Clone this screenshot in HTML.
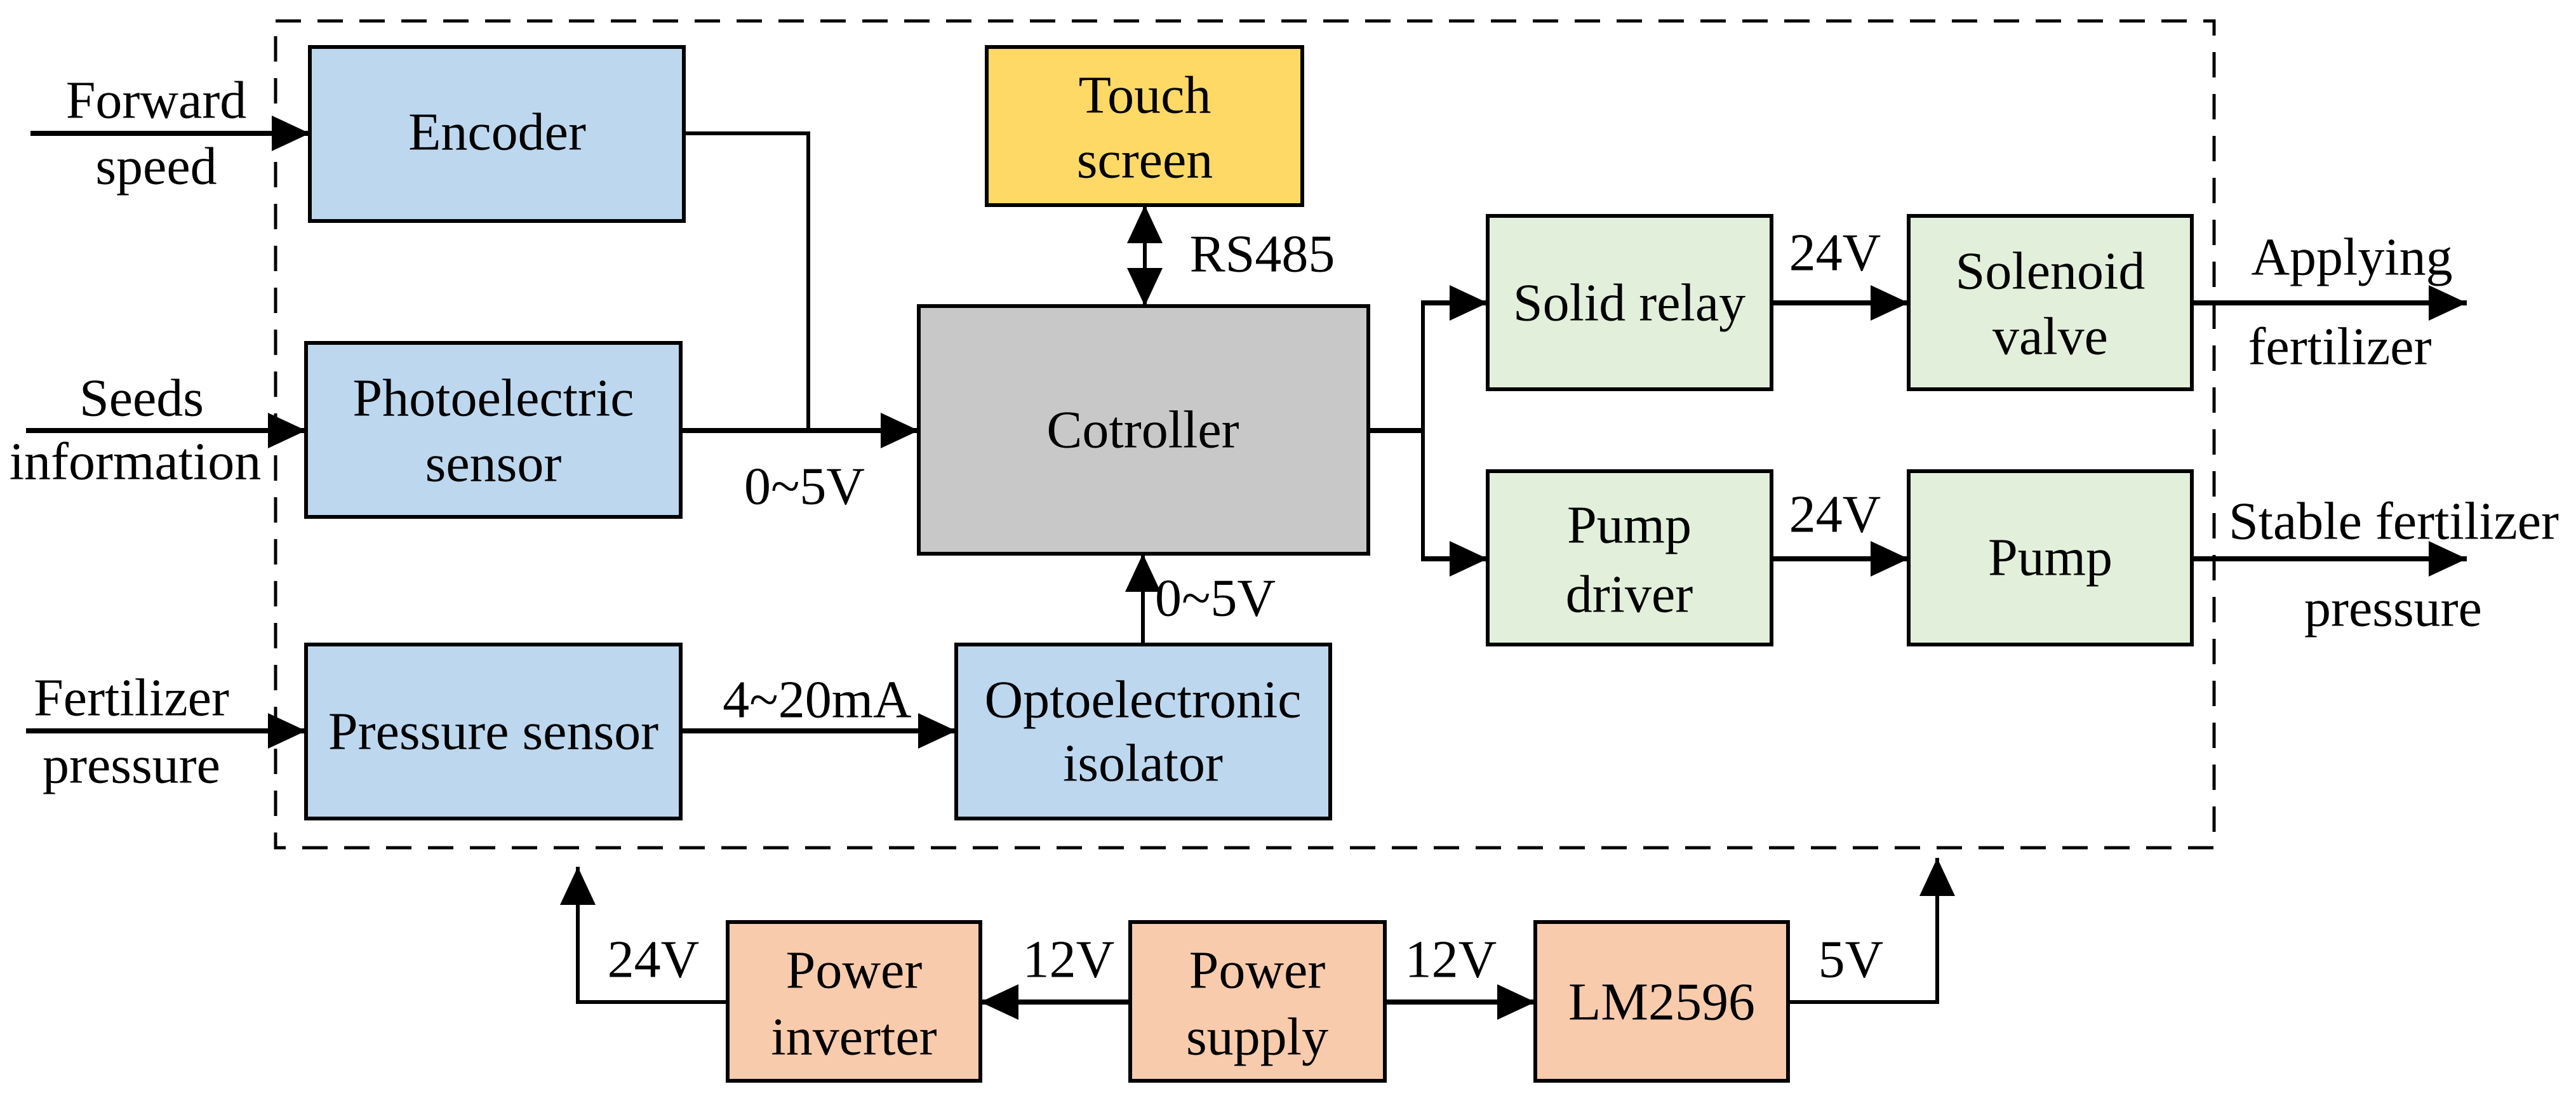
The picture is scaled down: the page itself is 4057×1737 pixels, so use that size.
<!DOCTYPE html>
<html><head><meta charset="utf-8"><style>
html,body{margin:0;padding:0;background:#fff}
svg{display:block}
text{font-family:"Liberation Serif","DejaVu Serif",serif;font-size:84px;fill:#000;text-anchor:middle;dominant-baseline:central}
</style></head><body>
<svg width="4057" height="1737" viewBox="0 0 4057 1737" xmlns="http://www.w3.org/2000/svg" font-family="Liberation Serif, DejaVu Serif, serif">
<defs>
<marker id="a" markerUnits="userSpaceOnUse" markerWidth="60" markerHeight="56" refX="60" refY="28" orient="auto">
<path d="M0,0 L60,28 L0,56 Z" fill="#000"/></marker>
</defs>
<rect x="434" y="33" width="3053" height="1302" fill="none" stroke="#000" stroke-width="5" stroke-dasharray="40,26"/>

<g stroke="#000" stroke-width="6">
<rect x="488" y="74" width="589" height="274" fill="#bdd7ee"/>
<rect x="482" y="540" width="590" height="274" fill="#bdd7ee"/>
<rect x="482" y="1015" width="590" height="274" fill="#bdd7ee"/>
<rect x="1506" y="1015" width="589" height="274" fill="#bdd7ee"/>
<rect x="1554" y="74" width="497" height="249" fill="#ffd966"/>
<rect x="1447" y="482" width="708" height="390" fill="#c8c8c8"/>
<rect x="2343" y="340" width="447" height="273" fill="#e2efda"/>
<rect x="3006" y="340" width="446" height="273" fill="#e2efda"/>
<rect x="2343" y="742" width="447" height="273" fill="#e2efda"/>
<rect x="3006" y="742" width="446" height="273" fill="#e2efda"/>
<rect x="1146" y="1452" width="398" height="250" fill="#f8cbad"/>
<rect x="1780" y="1452" width="401" height="250" fill="#f8cbad"/>
<rect x="2418" y="1452" width="398" height="250" fill="#f8cbad"/>
</g>

<g stroke="#000" stroke-width="8" fill="none">
<line x1="48" y1="210" x2="488" y2="210" marker-end="url(#a)"/>
<line x1="41" y1="678" x2="482" y2="678" marker-end="url(#a)"/>
<line x1="41" y1="1151" x2="482" y2="1151" marker-end="url(#a)"/>
<polyline points="1077,210 1273,210 1273,678" stroke-width="6"/>
<line x1="1072" y1="678" x2="1447" y2="678" marker-end="url(#a)"/>
<line x1="1072" y1="1151" x2="1506" y2="1151" marker-end="url(#a)"/>
<line x1="1800" y1="1015" x2="1800" y2="872" stroke-width="6" marker-end="url(#a)"/>
<line x1="1803" y1="400" x2="1803" y2="323" stroke-width="6" marker-end="url(#a)"/>
<line x1="1803" y1="400" x2="1803" y2="482" stroke-width="6" marker-end="url(#a)"/>
<line x1="2155" y1="678" x2="2241" y2="678"/>
<line x1="2241" y1="474" x2="2241" y2="884" stroke-width="6"/>
<line x1="2238" y1="477" x2="2343" y2="477" marker-end="url(#a)"/>
<line x1="2238" y1="880" x2="2343" y2="880" marker-end="url(#a)"/>
<line x1="2790" y1="477" x2="3006" y2="477" marker-end="url(#a)"/>
<line x1="2790" y1="880" x2="3006" y2="880" marker-end="url(#a)"/>
<line x1="3452" y1="477" x2="3885" y2="477" marker-end="url(#a)"/>
<line x1="3452" y1="880" x2="3885" y2="880" marker-end="url(#a)"/>
<line x1="1780" y1="1578" x2="1544" y2="1578" marker-end="url(#a)"/>
<line x1="2181" y1="1578" x2="2418" y2="1578" marker-end="url(#a)"/>
<polyline points="1146,1578 910,1578 910,1365" stroke-width="6" marker-end="url(#a)"/>
<polyline points="2816,1578 3051,1578 3051,1351" stroke-width="6" marker-end="url(#a)"/>
</g>

<text x="246" y="158">Forward</text>
<text x="246" y="262">speed</text>
<text x="223" y="627">Seeds</text>
<text x="213" y="727">information</text>
<text x="207" y="1099">Fertilizer</text>
<text x="207" y="1205">pressure</text>
<text x="783" y="208">Encoder</text>
<text x="777" y="627">Photoelectric</text>
<text x="777" y="730">sensor</text>
<text x="777" y="1152">Pressure sensor</text>
<text x="1267" y="766">0~5V</text>
<text x="1287" y="1102">4~20mA</text>
<text x="1800" y="1102">Optoelectronic</text>
<text x="1800" y="1202">isolator</text>
<text x="1914" y="942">0~5V</text>
<text x="1803" y="150">Touch</text>
<text x="1803" y="252">screen</text>
<text x="1988" y="400">RS485</text>
<text x="1800" y="677">Cotroller</text>
<text x="2566" y="477">Solid relay</text>
<text x="2890" y="398">24V</text>
<text x="2890" y="810">24V</text>
<text x="3229" y="427">Solenoid</text>
<text x="3229" y="530">valve</text>
<text x="2566" y="827">Pump</text>
<text x="2566" y="936">driver</text>
<text x="3229" y="878">Pump</text>
<text x="3704" y="405">Applying</text>
<text x="3685" y="546">fertilizer</text>
<text x="3770" y="821">Stable fertilizer</text>
<text x="3769" y="958">pressure</text>
<text x="1029" y="1511">24V</text>
<text x="1345" y="1528">Power</text>
<text x="1345" y="1633">inverter</text>
<text x="1683" y="1511">12V</text>
<text x="1980" y="1528">Power</text>
<text x="1980" y="1633">supply</text>
<text x="2285" y="1511">12V</text>
<text x="2617" y="1578">LM2596</text>
<text x="2915" y="1511">5V</text>
</svg>
</body></html>
